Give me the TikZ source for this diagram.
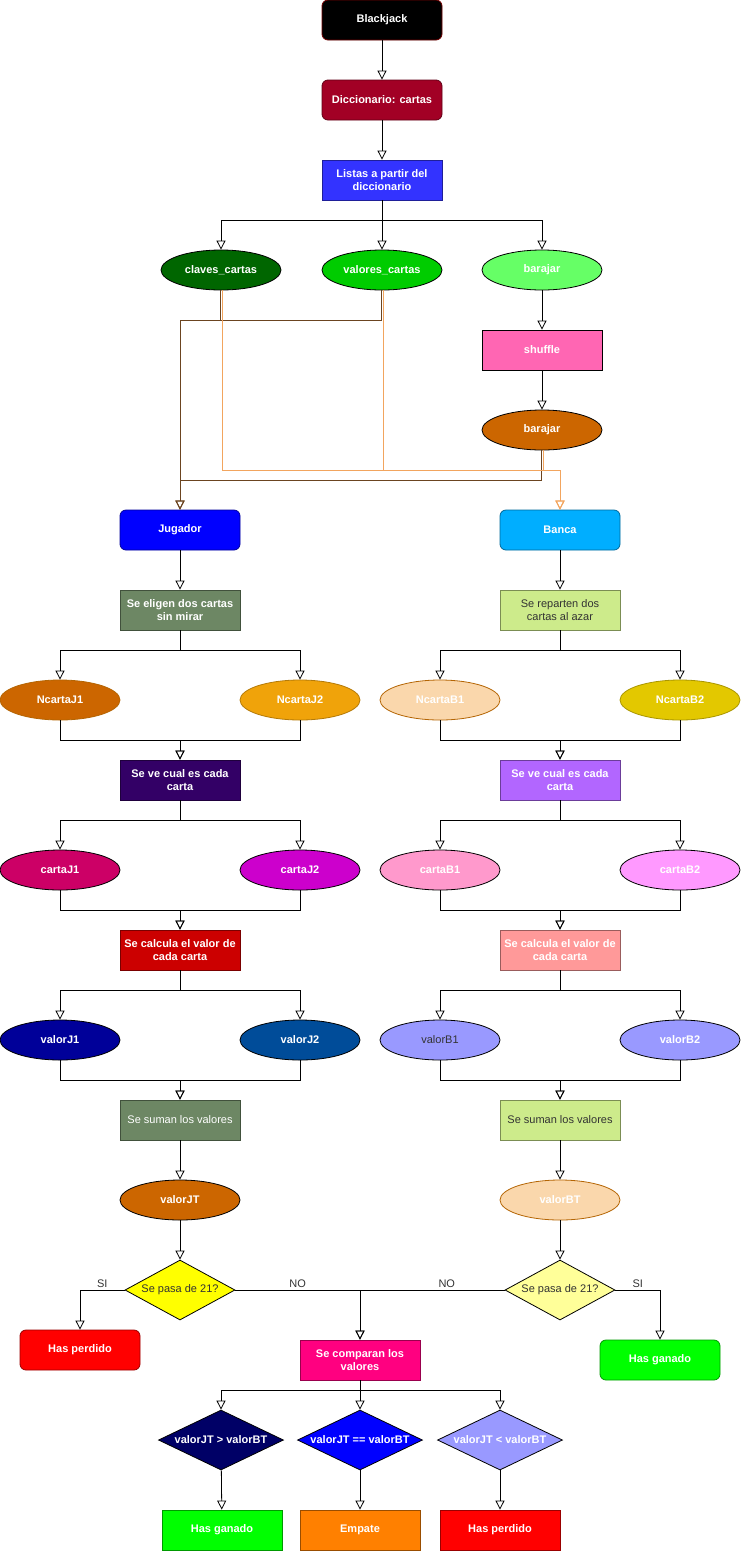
\documentclass[tikz,border=0pt]{standalone}
\usepackage{fontspec}
\setmainfont{Liberation Sans}
\usetikzlibrary{shapes.geometric,arrows.meta}
\definecolor{cBJ}{HTML}{000000}
\definecolor{cDic}{HTML}{A20025}
\definecolor{cLst}{HTML}{3333FF}
\definecolor{cClv}{HTML}{006600}
\definecolor{cVal}{HTML}{00CC00}
\definecolor{cBar}{HTML}{66FF66}
\definecolor{cShf}{HTML}{FF66B3}
\definecolor{cOra}{HTML}{CC6600}
\definecolor{cJug}{HTML}{0000FF}
\definecolor{cBan}{HTML}{00AEFF}
\definecolor{cSage}{HTML}{6D8764}
\definecolor{cLime}{HTML}{CDEB8B}
\definecolor{cGold}{HTML}{F0A30A}
\definecolor{cPeach}{HTML}{FAD7AC}
\definecolor{cYel}{HTML}{E3C800}
\definecolor{cDPur}{HTML}{330066}
\definecolor{cLPur}{HTML}{B266FF}
\definecolor{cMag}{HTML}{CC0066}
\definecolor{cVio}{HTML}{CC00CC}
\definecolor{cPink}{HTML}{FF99CC}
\definecolor{cLPink}{HTML}{FF99FF}
\definecolor{cRed}{HTML}{CC0000}
\definecolor{cSalm}{HTML}{FF9999}
\definecolor{cNavy}{HTML}{000099}
\definecolor{cCob}{HTML}{004C99}
\definecolor{cLav}{HTML}{9999FF}
\definecolor{cYY}{HTML}{FFFF00}
\definecolor{cLY}{HTML}{FFFF99}
\definecolor{cBR}{HTML}{FF0000}
\definecolor{cBG}{HTML}{00FF00}
\definecolor{cHot}{HTML}{FF0080}
\definecolor{cDN}{HTML}{000066}
\definecolor{cOr2}{HTML}{FF8000}
\definecolor{cTxt}{HTML}{333333}
\definecolor{cBrown}{HTML}{6B4420}
\definecolor{cLOr}{HTML}{F2A55E}
\definecolor{cPeachB}{HTML}{B46504}
\tikzset{
  base/.style={inner sep=0pt, align=center, text=white,
    font=\bfseries\fontsize{11}{13}\selectfont, line width=0.8pt},
  box/.style={base, rectangle, minimum width=120pt, minimum height=40pt, fill=#1, draw=#1!60!black},
  rbox/.style={box=#1, rounded corners=6pt},
  ell/.style={base, ellipse, minimum width=120pt, minimum height=40pt, fill=#1, draw=black},
  dia/.style={base, diamond, aspect=2, minimum width=125pt, minimum height=60pt, fill=#1, draw=black},
  dark/.style={text=cTxt, font=\fontsize{11}{13}\selectfont},
  arr/.style={draw=black, line width=0.8pt, -{Triangle[open,length=9pt,width=9pt]}},
  brarr/.style={arr, draw=cBrown},
  orarr/.style={arr, draw=cLOr},
  lab/.style={text=cTxt, font=\fontsize{11}{13}\selectfont, inner sep=2pt}
}
\begin{document}
\begin{tikzpicture}[x=1pt,y=-1pt]
\useasboundingbox (0,0) rectangle (741,1551);
% top
\node[rbox=cBJ, draw=red!45!black] (bj) at (382,20) {Blackjack};
\node[rbox=cDic] (dic) at (382,100) {Diccionario: cartas};
\node[box=cLst] (lst) at (382,180) {Listas a partir del\\diccionario};
\node[ell=cClv] (clv) at (221,270) {claves\_cartas};
\node[ell=cVal] (val) at (382,270) {valores\_cartas};
\node[ell=cBar] (bar) at (542,270) {barajar};
\node[box=cShf, draw=black] (shf) at (542,350) {shuffle};
\node[ell=cOra] (bar2) at (542,430) {barajar};
\node[rbox=cJug] (jug) at (180,530) {Jugador};
\node[rbox=cBan] (ban) at (560,530) {Banca};
% left column
\node[box=cSage] (eli) at (180,610) {Se eligen dos cartas\\sin mirar};
\node[ell=cOra, draw=cPeachB] (nj1) at (60,700) {NcartaJ1};
\node[ell=cGold, draw=cGold!75!black] (nj2) at (300,700) {NcartaJ2};
\node[box=cDPur] (vej) at (180,780) {Se ve cual es cada\\carta};
\node[ell=cMag] (cj1) at (60,870) {cartaJ1};
\node[ell=cVio] (cj2) at (300,870) {cartaJ2};
\node[box=cRed] (clj) at (180,950) {Se calcula el valor de\\cada carta};
\node[ell=cNavy] (vj1) at (60,1040) {valorJ1};
\node[ell=cCob] (vj2) at (300,1040) {valorJ2};
\node[box=cSage, font=\fontsize{11}{13}\selectfont] (smj) at (180,1120) {Se suman los valores};
\node[ell=cOra] (vjt) at (180,1200) {valorJT};
\node[dia=cYY, dark, minimum width=110pt] (dj) at (180,1290) {Se pasa de 21?};
\node[rbox=cBR] (hpl) at (80,1350) {Has perdido};
% right column
\node[box=cLime, dark] (rep) at (560,610) {Se reparten dos\\cartas al azar};
\node[ell=cPeach, draw=cPeachB] (nb1) at (440,700) {NcartaB1};
\node[ell=cYel, draw=cYel!75!black] (nb2) at (680,700) {NcartaB2};
\node[box=cLPur] (veb) at (560,780) {Se ve cual es cada\\carta};
\node[ell=cPink] (cb1) at (440,870) {cartaB1};
\node[ell=cLPink] (cb2) at (680,870) {cartaB2};
\node[box=cSalm] (clb) at (560,950) {Se calcula el valor de\\cada carta};
\node[ell=cLav, dark] (vb1) at (440,1040) {valorB1};
\node[ell=cLav] (vb2) at (680,1040) {valorB2};
\node[box=cLime, dark] (smb) at (560,1120) {Se suman los valores};
\node[ell=cPeach, draw=cPeachB] (vbt) at (560,1200) {valorBT};
\node[dia=cLY, dark, minimum width=110pt] (db) at (560,1290) {Se pasa de 21?};
\node[rbox=cBG] (hgr) at (660,1360) {Has ganado};
% bottom
\node[box=cHot] (cmp) at (360,1360) {Se comparan los\\valores};
\node[dia=cDN] (d1) at (221,1440) {valorJT > valorBT};
\node[dia=cJug] (d2) at (360,1440) {valorJT == valorBT};
\node[dia=cLav] (d3) at (500,1440) {valorJT < valorBT};
\node[box=cBG] (f1) at (222,1530) {Has ganado};
\node[box=cOr2] (f2) at (360,1530) {Empate};
\node[box=cBR] (f3) at (500,1530) {Has perdido};
% connectors top
\draw[arr] (bj) -- (dic);
\draw[arr] (dic) -- (lst);
\draw[arr] (lst.south) -- ++(0,20) -| (clv.north);
\draw[arr] (lst.south) -- (val.north);
\draw[arr] (lst.south) -- ++(0,20) -| (bar.north);
\draw[arr] (bar) -- (shf);
\draw[arr] (shf) -- (bar2);
% brown to Jugador
\draw[brarr] ([xshift=-1pt]clv.south) -- ++(0,30) -| (jug.north);
\draw[brarr] ([xshift=-1pt]val.south) -- ++(0,30) -| (jug.north);
\draw[brarr] ([xshift=-1pt]bar2.south) -- ++(0,30) -| (jug.north);
% orange to Banca
\draw[orarr] ([xshift=1pt]clv.south) -- ++(0,180) -| (ban.north);
\draw[orarr] ([xshift=1pt]val.south) -- ++(0,180) -| (ban.north);
\draw[orarr] ([xshift=1pt]bar2.south) -- ++(0,20) -| (ban.north);
% left chain
\draw[arr] (jug) -- (eli);
\draw[arr] (eli.south) -- ++(0,20) -| (nj1.north);
\draw[arr] (eli.south) -- ++(0,20) -| (nj2.north);
\draw[arr] (nj1.south) -- ++(0,20) -| (vej.north);
\draw[arr] (nj2.south) -- ++(0,20) -| (vej.north);
\draw[arr] (vej.south) -- ++(0,20) -| (cj1.north);
\draw[arr] (vej.south) -- ++(0,20) -| (cj2.north);
\draw[arr] (cj1.south) -- ++(0,20) -| (clj.north);
\draw[arr] (cj2.south) -- ++(0,20) -| (clj.north);
\draw[arr] (clj.south) -- ++(0,20) -| (vj1.north);
\draw[arr] (clj.south) -- ++(0,20) -| (vj2.north);
\draw[arr] (vj1.south) -- ++(0,20) -| (smj.north);
\draw[arr] (vj2.south) -- ++(0,20) -| (smj.north);
\draw[arr] (smj) -- (vjt);
\draw[arr] (vjt) -- (dj);
% right chain
\draw[arr] (ban) -- (rep);
\draw[arr] (rep.south) -- ++(0,20) -| (nb1.north);
\draw[arr] (rep.south) -- ++(0,20) -| (nb2.north);
\draw[arr] (nb1.south) -- ++(0,20) -| (veb.north);
\draw[arr] (nb2.south) -- ++(0,20) -| (veb.north);
\draw[arr] (veb.south) -- ++(0,20) -| (cb1.north);
\draw[arr] (veb.south) -- ++(0,20) -| (cb2.north);
\draw[arr] (cb1.south) -- ++(0,20) -| (clb.north);
\draw[arr] (cb2.south) -- ++(0,20) -| (clb.north);
\draw[arr] (clb.south) -- ++(0,20) -| (vb1.north);
\draw[arr] (clb.south) -- ++(0,20) -| (vb2.north);
\draw[arr] (vb1.south) -- ++(0,20) -| (smb.north);
\draw[arr] (vb2.south) -- ++(0,20) -| (smb.north);
\draw[arr] (smb) -- (vbt);
\draw[arr] (vbt) -- (db);
% decisions
\draw[arr] (dj.west) -| node[lab, pos=0.25, above] (siL) {SI} (hpl.north);
\draw[arr] (dj.east) -| node[lab, pos=0.25, above] (noL) {NO} (cmp.north);
\draw[arr] (db.west) -| node[lab, pos=0.2, above] (noR) {NO} (cmp.north);
\draw[arr] (db.east) -| node[lab, pos=0.25, above] (siR) {SI} (hgr.north);
% compare
\draw[arr] (cmp.south) -- ++(0,10) -| (d1.north);
\draw[arr] (cmp.south) -- (d2.north);
\draw[arr] (cmp.south) -- ++(0,10) -| (d3.north);
\draw[arr] (d1) -- (f1);
\draw[arr] (d2) -- (f2);
\draw[arr] (d3) -- (f3);
\end{tikzpicture}
\end{document}
